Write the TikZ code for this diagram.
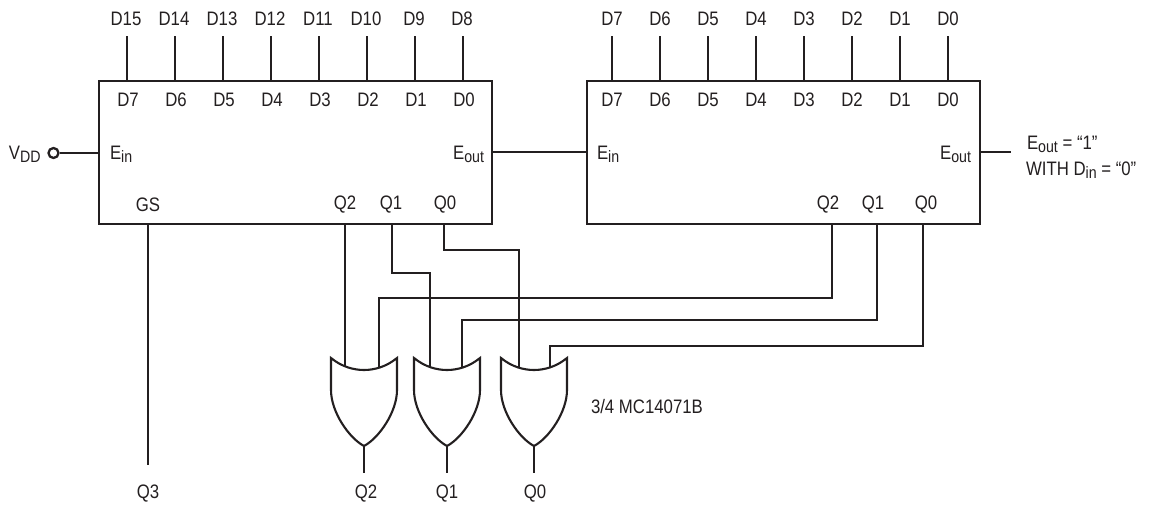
\documentclass[tikz,border=0pt]{standalone}
\usepackage{fontspec}
\setmainfont[FakeStretch=0.86]{Liberation Sans}
\definecolor{ink}{HTML}{231F20}
\tikzset{
  wire/.style={draw=ink,line width=2.1pt,line cap=butt,line join=miter},
  chip/.style={draw=ink,line width=2.1pt,fill=none,rectangle,minimum width=#1,minimum height=143pt,inner sep=0pt,outer sep=0pt},
  lbl/.style={text=ink,font=\fontsize{19.5}{21}\selectfont,inner sep=0pt,outer sep=0pt},
  gatebody/.style={draw=ink,line width=2.1pt,line join=miter}
}
\newcommand{\sbs}[1]{\raisebox{-3.5pt}{\fontsize{16.5}{18}\selectfont #1}}
\newcommand{\orgate}[2]{% centre x, name
  \draw[gatebody] (#1-33,358) .. controls (#1-22,367) and (#1-10,370) .. (#1,370)
    .. controls (#1+10,370) and (#1+22,367) .. (#1+33,358)
    -- (#1+33,390) .. controls (#1+33,412) and (#1+15,438) .. (#1,446)
    .. controls (#1-15,438) and (#1-33,412) .. (#1-33,390) -- cycle;
  \coordinate (#2out) at (#1,446);
  \coordinate (#2end) at (#1,473);
}
\begin{document}
\begin{tikzpicture}[x=1pt,y=-1pt]
\useasboundingbox (0,0) rectangle (1150,506);
\node[chip=393pt,anchor=north west] (A) at (99,81) {};
\node[chip=393pt,anchor=north west] (B) at (587,81) {};
% top pins left chip
\foreach \x/\o/\i in {127/D15/D7,175/D14/D6,223/D13/D5,271/D12/D4,319/D11/D3,367/D10/D2,415/D9/D1,463/D8/D0}{
  \node[lbl] (o\o) at (\x-1,19) {\o};
  \node[lbl] (ai\i) at (\x+1,100) {\i};
  \coordinate (ot\o) at (\x,36);
  \draw[wire] (ot\o) -- (\x,81);
}
\foreach \x/\i in {612/D7,660/D6,708/D5,756/D4,804/D3,852/D2,900/D1,948/D0}{
  \node[lbl] (bo\i) at (\x,19) {\i};
  \node[lbl] (bi\i) at (\x,100) {\i};
  \coordinate (bt\i) at (\x,36);
  \draw[wire] (bt\i) -- (\x,81);
}
% enable
\node[lbl,anchor=base west] (vdd) at (9,159) {V\sbs{DD}};
\node[draw=ink,line width=2.3pt,circle,minimum size=10pt,inner sep=0pt] (vc) at (53.5,153) {};
\draw[wire] (vc) -- (A.west |- vc);
\node[lbl,anchor=base west] (ein) at (110,159) {E\sbs{in}};
\node[lbl,anchor=base east] (eout) at (484,159) {E\sbs{out}};
\coordinate (ab) at (492,152);
\draw[wire] (ab) -- (B.west |- ab);
\node[lbl,anchor=base west] (ein2) at (597,159) {E\sbs{in}};
\node[lbl,anchor=base east] (eout2) at (971,159) {E\sbs{out}};
\coordinate (oe) at (1011,152);
\draw[wire] (B.east |- oe) -- (oe);
\node[lbl,anchor=base west] (n1) at (1027,149) {E\sbs{out} = “1”};
\node[lbl,anchor=base west] (n2) at (1026,175) {WITH D\sbs{in} = “0”};
% inner outputs
\node[lbl] (gs) at (148,205) {GS};
\node[lbl] (aq2) at (345,205) {Q2};
\node[lbl] (aq1) at (391,205) {Q1};
\node[lbl] (aq0) at (445,205) {Q0};
\node[lbl] (bq2) at (828,205) {Q2};
\node[lbl] (bq1) at (873,205) {Q1};
\node[lbl] (bq0) at (926,205) {Q0};
% gates
\orgate{364}{g}
\orgate{447}{h}
\orgate{534}{k}
\draw[wire] (gout) -- (gend);
\draw[wire] (hout) -- (hend);
\draw[wire] (kout) -- (kend);
\node[lbl] (q3) at (148,494) {Q3};
\node[lbl] (q2) at (366,494) {Q2};
\node[lbl] (q1) at (447,494) {Q1};
\node[lbl] (q0) at (535,494) {Q0};
\node[lbl,anchor=base west] (mc) at (591,413) {3/4 MC14071B};
% wires
\coordinate (q3e) at (148,465);
\draw[wire] (148,224) -- (q3e);
\draw[wire] (345,224) -- (345,367);
\draw[wire] (392,224) -- (392,273) -- (430,273) -- (430,367);
\draw[wire] (444,224) -- (444,250) -- (519,250) -- (519,367);
\draw[wire] (832,224) -- (832,298) -- (379,298) -- (379,367);
\draw[wire] (877,224) -- (877,320) -- (462,320) -- (462,367);
\draw[wire] (923,224) -- (923,346) -- (550,346) -- (550,367);
\end{tikzpicture}
\end{document}
